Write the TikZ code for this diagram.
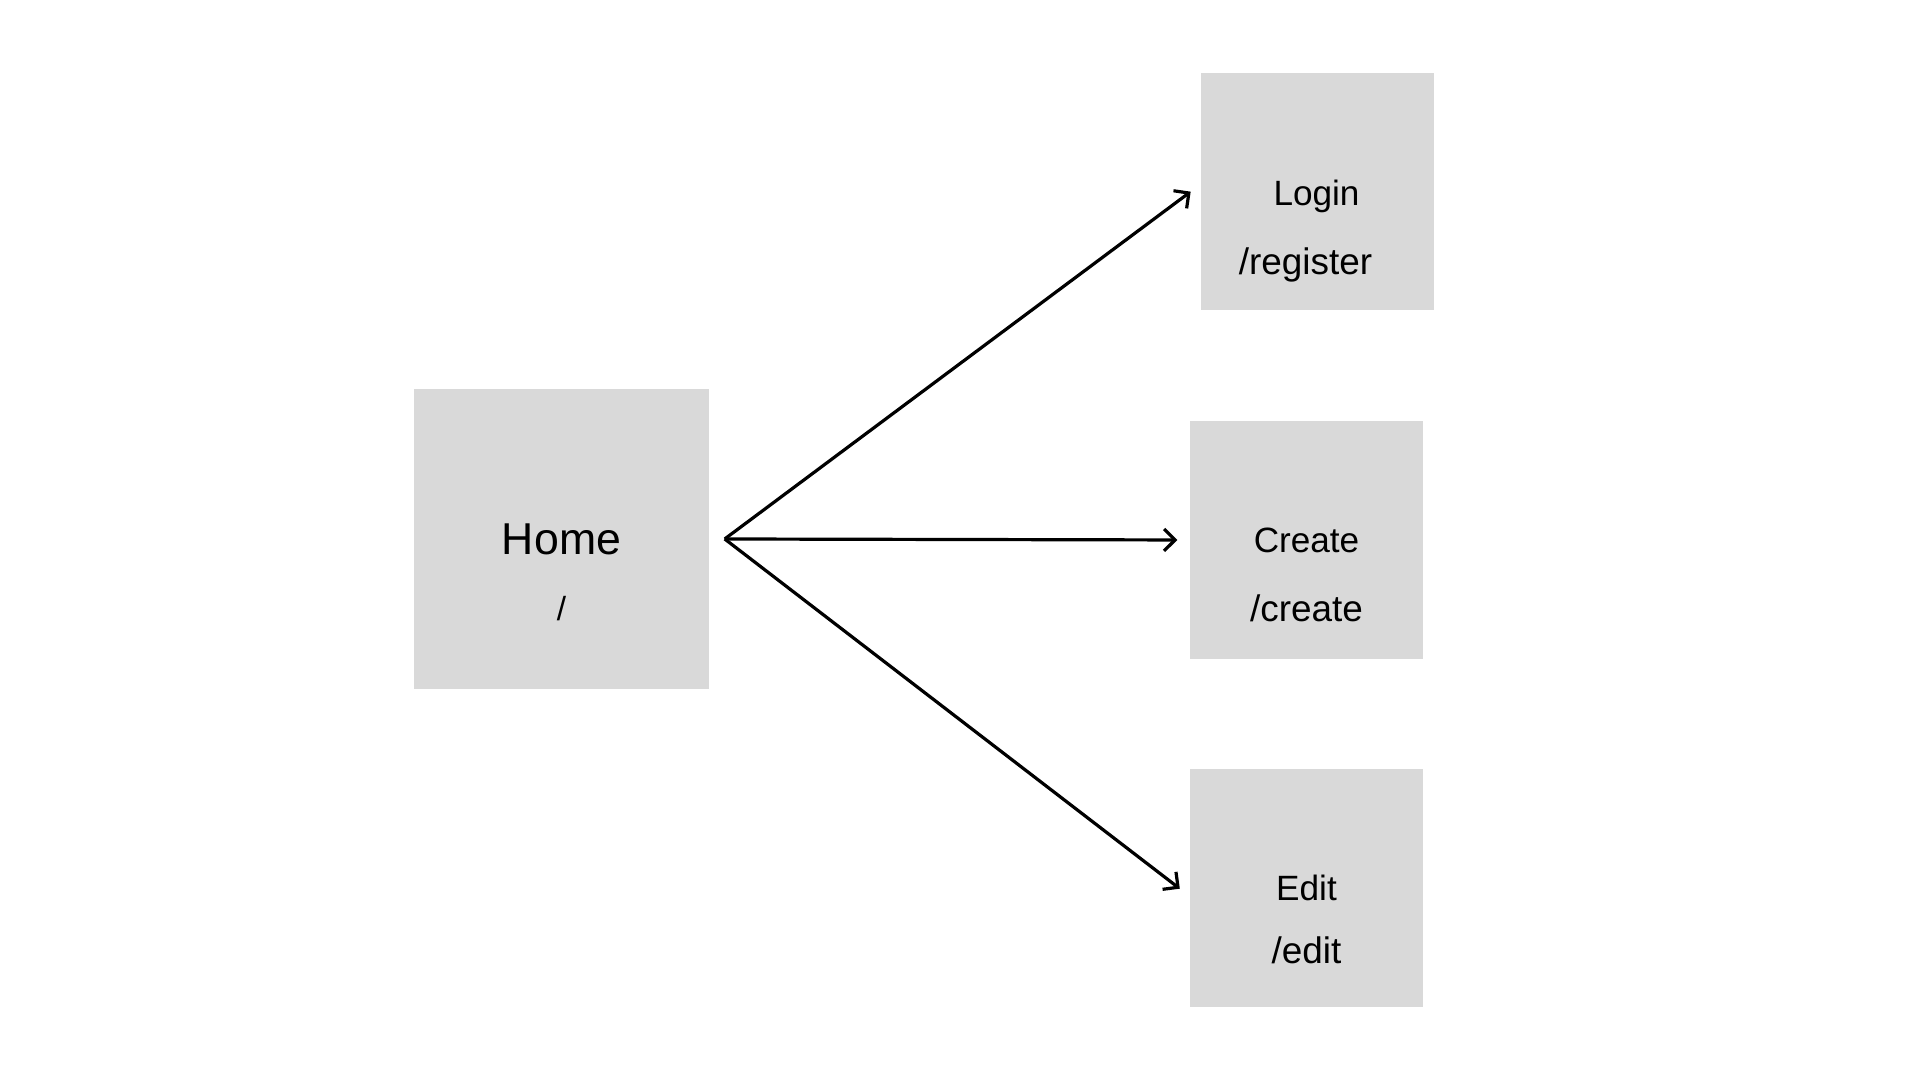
\documentclass[tikz,border=0pt]{standalone}
\usepackage{fontspec}
\setmainfont{Liberation Sans}
\usetikzlibrary{positioning,arrows.meta}

\definecolor{boxgray}{HTML}{D9D9D9}
\tikzset{
  page/.style={fill=boxgray,draw=none,inner sep=0pt},
  link/.style={-{Straight Barb[length=1.1mm,width=2.2mm]},line width=0.32mm,shorten >=0.12cm}
}

\begin{document}
\begin{tikzpicture}
      \useasboundingbox (0,0) rectangle (19.2,10.8);
      % pages
      \node[page,minimum width=2.95cm,minimum height=3.0cm] (home) at (5.615,5.41) {};
      \node[page,minimum width=2.33cm,minimum height=2.37cm] (login) at (13.175,8.885) {};
      \node[page,minimum width=2.33cm,minimum height=2.38cm] (create) at (13.065,5.40) {};
      \node[page,minimum width=2.33cm,minimum height=2.38cm] (edit) at (13.065,1.92) {};
      % texts
      \node[font=\fontsize{12.7}{14}\selectfont] (hometitle) at (home) {Home};
      \node[font=\fontsize{9.5}{11}\selectfont] (homepath) at ([yshift=-0.70cm]home.center) {/};
      \node[font=\fontsize{10}{12}\selectfont] (logintitle) at ([xshift=-0.01cm,yshift=-0.05cm]login.center) {Login};
      \node[font=\fontsize{10.5}{12}\selectfont] (loginpath) at ([xshift=-0.12cm,yshift=-0.73cm]login.center) {/register};
      \node[font=\fontsize{10}{12}\selectfont] (createtitle) at (create) {Create};
      \node[font=\fontsize{10.5}{12}\selectfont] (createpath) at ([yshift=-0.68cm]create.center) {/create};
      \node[font=\fontsize{10}{12}\selectfont] (edittitle) at (edit) {Edit};
      \node[font=\fontsize{10.5}{12}\selectfont] (editpath) at ([yshift=-0.62cm]edit.center) {/edit};
      % links
      \coordinate[right=0.15cm of home.east] (hub);
      \draw[link] (hub) -- ([yshift=0.07cm]login.west);
      \draw[link] (hub) -- (create.west);
      \draw[link] (hub) -- ([yshift=-0.08cm]edit.west);
\end{tikzpicture}
\end{document}
